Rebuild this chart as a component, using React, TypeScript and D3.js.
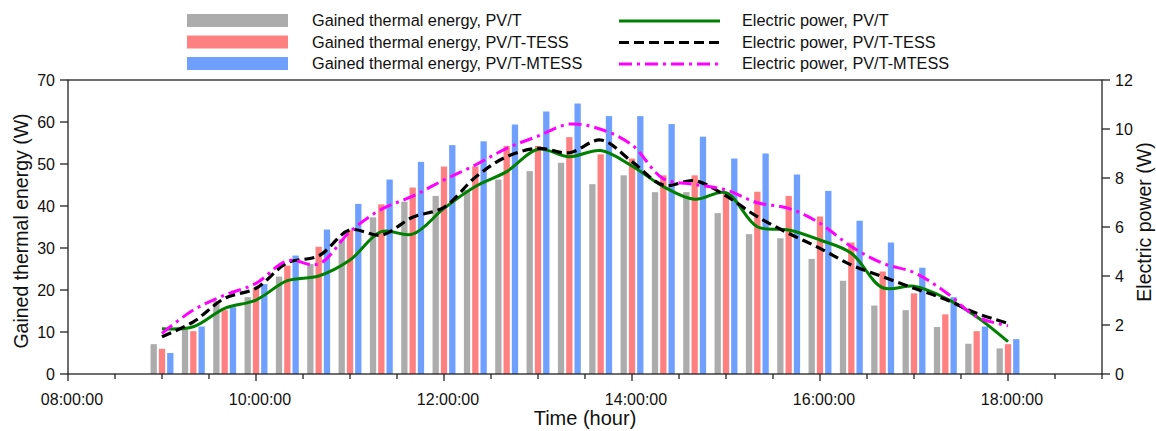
import React from "react";
import * as d3 from "d3";

const timeLabels = ["09:00","09:20","09:40","10:00","10:20","10:40","11:00","11:20","11:40","12:00","12:20","12:40","13:00","13:20","13:40","14:00","14:20","14:40","15:00","15:20","15:40","16:00","16:20","16:40","17:00","17:20","17:40","18:00"];

const thermalPVT = [7.1,11.0,17.4,18.3,23.2,26.2,32.1,37.3,41.0,42.4,43.8,46.3,48.3,50.3,45.2,47.3,43.3,43.3,38.3,33.3,32.3,27.4,22.2,16.3,15.2,11.2,7.2,6.1];
const thermalTESS = [6.0,10.2,15.2,20.5,25.8,30.3,34.3,40.4,44.4,49.4,49.4,54.3,54.3,56.4,52.3,51.3,47.3,47.3,43.0,43.4,42.4,37.5,31.3,24.4,19.2,14.2,10.2,7.1];
const thermalMTESS = [5.0,11.3,15.9,21.4,28.2,34.4,40.5,46.3,50.5,54.5,55.4,59.4,62.5,64.4,61.4,61.4,59.5,56.5,51.3,52.5,47.5,43.6,36.5,31.3,25.3,18.3,11.3,8.3];

const powerPVT = [1.85,1.93,2.68,3.02,3.81,4.0,4.65,5.81,5.71,6.76,7.65,8.26,9.17,8.87,9.12,8.49,7.65,7.13,7.40,6.01,5.88,5.47,4.93,3.52,3.58,3.1,2.34,1.32];
const powerTESS = [1.52,2.13,3.09,3.50,4.54,4.82,5.88,5.67,6.4,6.80,8.03,8.87,9.21,9.03,9.55,8.67,7.71,7.89,7.27,6.42,5.74,5.13,4.45,3.97,3.50,3.05,2.48,2.07];
const powerMTESS = [1.66,2.61,3.22,3.70,4.62,4.49,5.81,6.72,7.26,7.92,8.53,9.21,9.71,10.20,9.99,9.35,7.97,7.74,7.51,6.99,6.76,6.15,5.20,4.52,4.14,3.35,2.34,1.97];

const xTickLabels = ["08:00:00","10:00:00","12:00:00","14:00:00","16:00:00","18:00:00"];
const leftTicks = [0,10,20,30,40,50,60,70];
const rightTicks = [0,2,4,6,8,10,12];

const barSeries = [
  { name: "Gained thermal energy, PV/T", values: thermalPVT, color: "#acacac" },
  { name: "Gained thermal energy, PV/T-TESS", values: thermalTESS, color: "#ff8080" },
  { name: "Gained thermal energy, PV/T-MTESS", values: thermalMTESS, color: "#6fa0ff" },
];
const lineSeries = [
  { name: "Electric power, PV/T", values: powerPVT, color: "#008000", dash: "", width: 3 },
  { name: "Electric power, PV/T-TESS", values: powerTESS, color: "#000000", dash: "10,5", width: 3.2 },
  { name: "Electric power, PV/T-MTESS", values: powerMTESS, color: "#ff00ff", dash: "13,5,3,5", width: 3 },
];

const toHours = (s: string) => {
  const [h, m] = s.split(":").map(Number);
  return h + m / 60;
};

export default function App() {
  const W = 1156, H = 431;
  const left = 68, right = 1102, top = 80, bottom = 374;
  const font = "Arial, 'Liberation Sans', sans-serif";

  const x = d3.scaleLinear().domain([8, 19]).range([left, right]);
  const yL = d3.scaleLinear().domain([0, 70]).range([bottom, top]);
  const yR = d3.scaleLinear().domain([0, 12]).range([bottom, top]);

  const barW = 6.3;
  const barStep = 8.3;
  const hours = timeLabels.map(toHours);

  const minorTicks = d3.range(8, 19.001, 0.5);
  const majorTicks = xTickLabels.map(toHours);

  return (
    <svg width={W} height={H} style={{ position: "absolute", left: 0, top: 0, background: "#fff" }} fontFamily={font}>
      {/* bars */}
      {barSeries.map((s, si) => (
        <g key={s.name}>
          {s.values.map((v, i) => (
            <rect key={i} x={x(hours[i]) + (si - 1) * barStep - barW / 2} y={yL(v)} width={barW} height={yL(0) - yL(v)} fill={s.color} />
          ))}
        </g>
      ))}
      {/* lines */}
      {lineSeries.map((s) => {
        const line = d3.line<number>().x((_, i) => x(hours[i])).y((v) => yR(v)).curve(d3.curveCatmullRom.alpha(0.5));
        return <path key={s.name} d={line(s.values) || ""} fill="none" stroke={s.color} strokeWidth={s.width} strokeDasharray={s.dash || undefined} />;
      })}
      {/* frame */}
      <rect x={left} y={top} width={right - left} height={bottom - top} fill="none" stroke="#222" strokeWidth={1.3} />
      {/* x ticks */}
      {minorTicks.map((t, i) => {
        const major = majorTicks.some((m) => Math.abs(m - t) < 1e-6);
        return <line key={i} x1={x(t)} x2={x(t)} y1={bottom} y2={bottom + (major ? 7 : 5)} stroke="#222" strokeWidth={1.3} />;
      })}
      {xTickLabels.map((lab, i) => (
        <text key={lab} x={x(majorTicks[i]) + 4} y={405} fontSize={16} textAnchor="middle" fill="#111">{lab}</text>
      ))}
      {/* left ticks */}
      {leftTicks.map((t) => (
        <g key={t}>
          <line x1={left - 8} x2={left} y1={yL(t)} y2={yL(t)} stroke="#222" strokeWidth={1.3} />
          <text x={left - 13} y={yL(t) + 6} fontSize={16} textAnchor="end" fill="#111">{t}</text>
        </g>
      ))}
      {/* right ticks */}
      {rightTicks.map((t) => (
        <g key={t}>
          <line x1={right} x2={right + 8} y1={yR(t)} y2={yR(t)} stroke="#222" strokeWidth={1.3} />
          <text x={right + 13} y={yR(t) + 6} fontSize={16} textAnchor="start" fill="#111">{t}</text>
        </g>
      ))}
      {/* axis titles */}
      <text x={(left + right) / 2} y={425} fontSize={20} textAnchor="middle" fill="#111">Time (hour)</text>
      <text transform={`translate(28, ${(top + bottom) / 2 + 4}) rotate(-90)`} fontSize={19.5} textAnchor="middle" fill="#111">Gained thermal energy (W)</text>
      <text transform={`translate(1151, ${(top + bottom) / 2 - 5}) rotate(-90)`} fontSize={19.5} textAnchor="middle" fill="#111">Electric power (W)</text>
      {/* legend */}
      {barSeries.map((s, i) => (
        <g key={s.name}>
          <rect x={187} y={14 + i * 21.5} width={101} height={13} fill={s.color} />
          <text x={312} y={26 + i * 21.5} fontSize={16.3} fill="#111">{s.name}</text>
        </g>
      ))}
      {lineSeries.map((s, i) => (
        <g key={s.name}>
          <line x1={619} x2={720} y1={21 + i * 21.5} y2={21 + i * 21.5} stroke={s.color} strokeWidth={s.width} strokeDasharray={s.dash || undefined} />
          <text x={742} y={26 + i * 21.5} fontSize={16.3} fill="#111">{s.name}</text>
        </g>
      ))}
    </svg>
  );
}
